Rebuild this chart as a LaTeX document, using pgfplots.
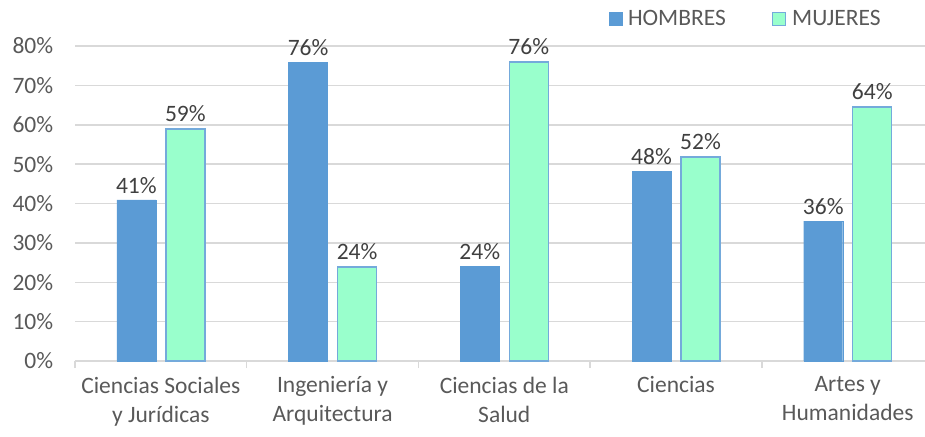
\documentclass[border=0pt]{standalone}
\usepackage{fontspec}
\setmainfont{Carlito}
\usepackage{pgfplots}
\pgfplotsset{compat=1.18}
\definecolor{hombres}{HTML}{5B9BD5}
\definecolor{mujeres}{HTML}{99FFCC}
\definecolor{txt}{HTML}{595959}
\definecolor{lbl}{HTML}{404040}
\definecolor{gridc}{HTML}{D9D9D9}
\newcommand{\cfont}{\fontsize{23.5}{29}\selectfont}
\begin{document}
\begin{tikzpicture}[x=1pt,y=1pt]
\useasboundingbox (0,0) rectangle (925,436);
\begin{axis}[
    at={(75pt,75pt)}, anchor=south west,
    scale only axis,
    width=850pt, height=315pt,
    ybar=10pt, bar width=39pt,
    xmin=-0.5, xmax=4.45,
    ymin=0, ymax=80,
    axis x line*=bottom,
    axis y line*=left,
    y axis line style={draw=none},
    x axis line style={draw=gridc, line width=1.5pt},
    xtick={0,1,2,3,4},
    xticklabels={Ciencias Sociales\\y Jurídicas, Ingeniería y\\Arquitectura, Ciencias de la\\Salud, Ciencias, Artes y\\Humanidades},
    minor xtick={-0.5,0.5,1.5,2.5,3.5,4.5},
    major x tick style={draw=none},
    major y tick style={draw=none},
    minor x tick style={draw=gridc, line width=1.5pt},
    tick align=outside,
    minor tick length=7pt,
    ytick={0,10,...,80},
    yticklabels={0\%,10\%,20\%,30\%,40\%,50\%,60\%,70\%,80\%},
    ymajorgrids,
    grid style={draw=gridc, line width=1.5pt},
    xticklabel style={align=center, text=txt, font=\cfont, yshift=-8pt},
    yticklabel style={text=txt, font=\cfont, xshift=-14pt},
    point meta=explicit symbolic,
    nodes near coords,
    nodes near coords style={font=\cfont, text=lbl, yshift=3pt},
    legend style={at={(0.624,1.086)}, anchor=west, draw=none, fill=none,
        legend columns=2, font=\cfont, text=txt,
        /tikz/every odd column/.append style={column sep=4pt},
        /tikz/every even column/.append style={column sep=44pt}},
    legend image code/.code={\draw[#1] (0pt,-6.5pt) rectangle (13pt,6.5pt);},
]
\addplot[fill=hombres, draw=hombres] coordinates {
(0,40.9) [41\%] (1,75.9) [76\%] (2,24.1) [24\%] (3,48.2) [48\%] (4,35.5) [36\%]
};
\addlegendentry{HOMBRES}
\addplot[fill=mujeres, draw=hombres!85!white, line width=1.3pt] coordinates {
(0,58.9) [59\%] (1,23.9) [24\%] (2,75.9) [76\%] (3,51.8) [52\%] (4,64.5) [64\%]
};
\addlegendentry{MUJERES}
\end{axis}
\end{tikzpicture}
\end{document}
